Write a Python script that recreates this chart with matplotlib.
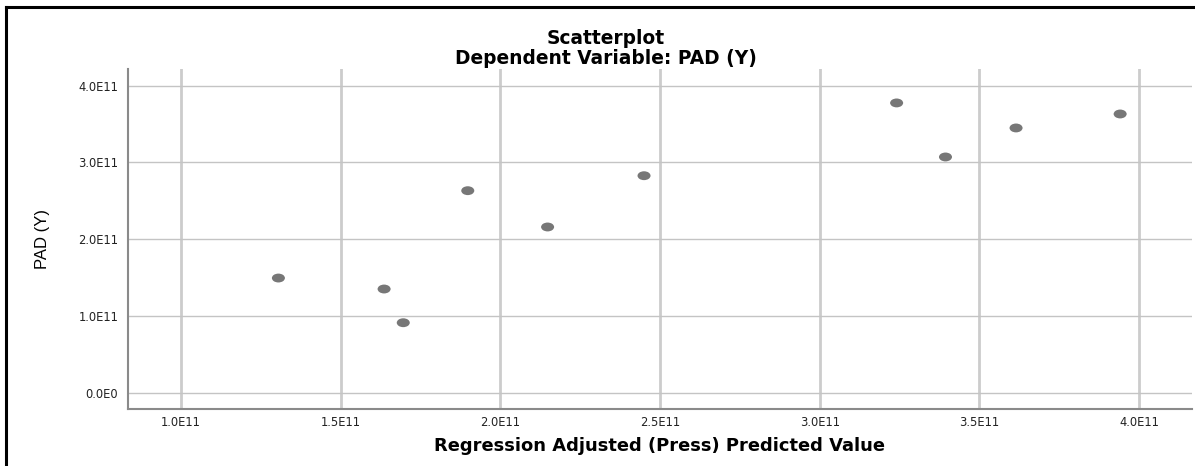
import matplotlib
matplotlib.use("Agg")
import matplotlib.pyplot as plt
from matplotlib.lines import Line2D
from matplotlib.path import Path
from matplotlib.transforms import Affine2D

# values
predicted = [1.305e11, 1.636e11, 1.696e11, 1.898e11, 2.148e11,
             2.450e11, 3.241e11, 3.394e11, 3.615e11, 3.941e11]
pad_y = [1.494e11, 1.351e11, 0.912e11, 2.632e11, 2.159e11,
         2.827e11, 3.775e11, 3.071e11, 3.449e11, 3.631e11]

x_ticks = [1.0e11, 1.5e11, 2.0e11, 2.5e11, 3.0e11, 3.5e11, 4.0e11]
x_tick_labels = ["1.0E11", "1.5E11", "2.0E11", "2.5E11", "3.0E11", "3.5E11", "4.0E11"]
y_ticks = [0.0, 1.0e11, 2.0e11, 3.0e11, 4.0e11]
y_tick_labels = ["0.0E0", "1.0E11", "2.0E11", "3.0E11", "4.0E11"]

plt.rcParams["font.family"] = ["DejaVu Sans"]

fig = plt.figure(figsize=(11.95, 4.66), dpi=100)
ax = fig.add_axes([128 / 1195, 1 - 409 / 466, (1192 - 128) / 1195, (409 - 69) / 466])

# slightly flattened dot, like the SPSS marker
ellipse = Path.unit_circle().transformed(Affine2D().scale(1.0, 0.68))
ax.scatter(predicted, pad_y, marker=ellipse, s=88, color="#777777",
           edgecolors="none", zorder=3)

ax.set_xlim(0.834e11, 4.166e11)
ax.set_ylim(-0.212e11, 4.217e11)
ax.set_xticks(x_ticks)
ax.set_xticklabels(x_tick_labels)
ax.set_yticks(y_ticks)
ax.set_yticklabels(y_tick_labels)
ax.tick_params(length=0, labelsize=8.3, labelcolor="#222222")
ax.tick_params(axis="y", pad=7)
ax.tick_params(axis="x", pad=5)

ax.grid(axis="x", color="#cccccc", linewidth=2.0, zorder=0)
ax.grid(axis="y", color="#c4c4c4", linewidth=1.0, zorder=0)

for side in ["top", "right"]:
    ax.spines[side].set_visible(False)
for side in ["left", "bottom"]:
    ax.spines[side].set_color("#8a8a8a")
    ax.spines[side].set_linewidth(1.5)

ax.set_xlabel("Regression Adjusted (Press) Predicted Value",
              fontsize=12.9, fontweight="bold", labelpad=6)
ax.set_ylabel("PAD (Y)", fontsize=12,
              family=["Liberation Sans", "DejaVu Sans"], labelpad=20)

fig.text(0.507, 1 - 38 / 466, "Scatterplot", ha="center", va="center",
         fontsize=13.4, fontweight="bold")
fig.text(0.507, 1 - 59 / 466, "Dependent Variable: PAD (Y)", ha="center",
         va="center", fontsize=13.4, fontweight="bold")

# frame border from the screenshot (top and left edges)
fig.add_artist(Line2D([6 / 1195, 6 / 1195], [0, 1 - 7 / 466], color="black",
                      linewidth=2.2, transform=fig.transFigure))
fig.add_artist(Line2D([6 / 1195, 1], [1 - 7 / 466, 1 - 7 / 466], color="black",
                      linewidth=2.2, transform=fig.transFigure))

fig.savefig("out.png", dpi=100, facecolor="white")
